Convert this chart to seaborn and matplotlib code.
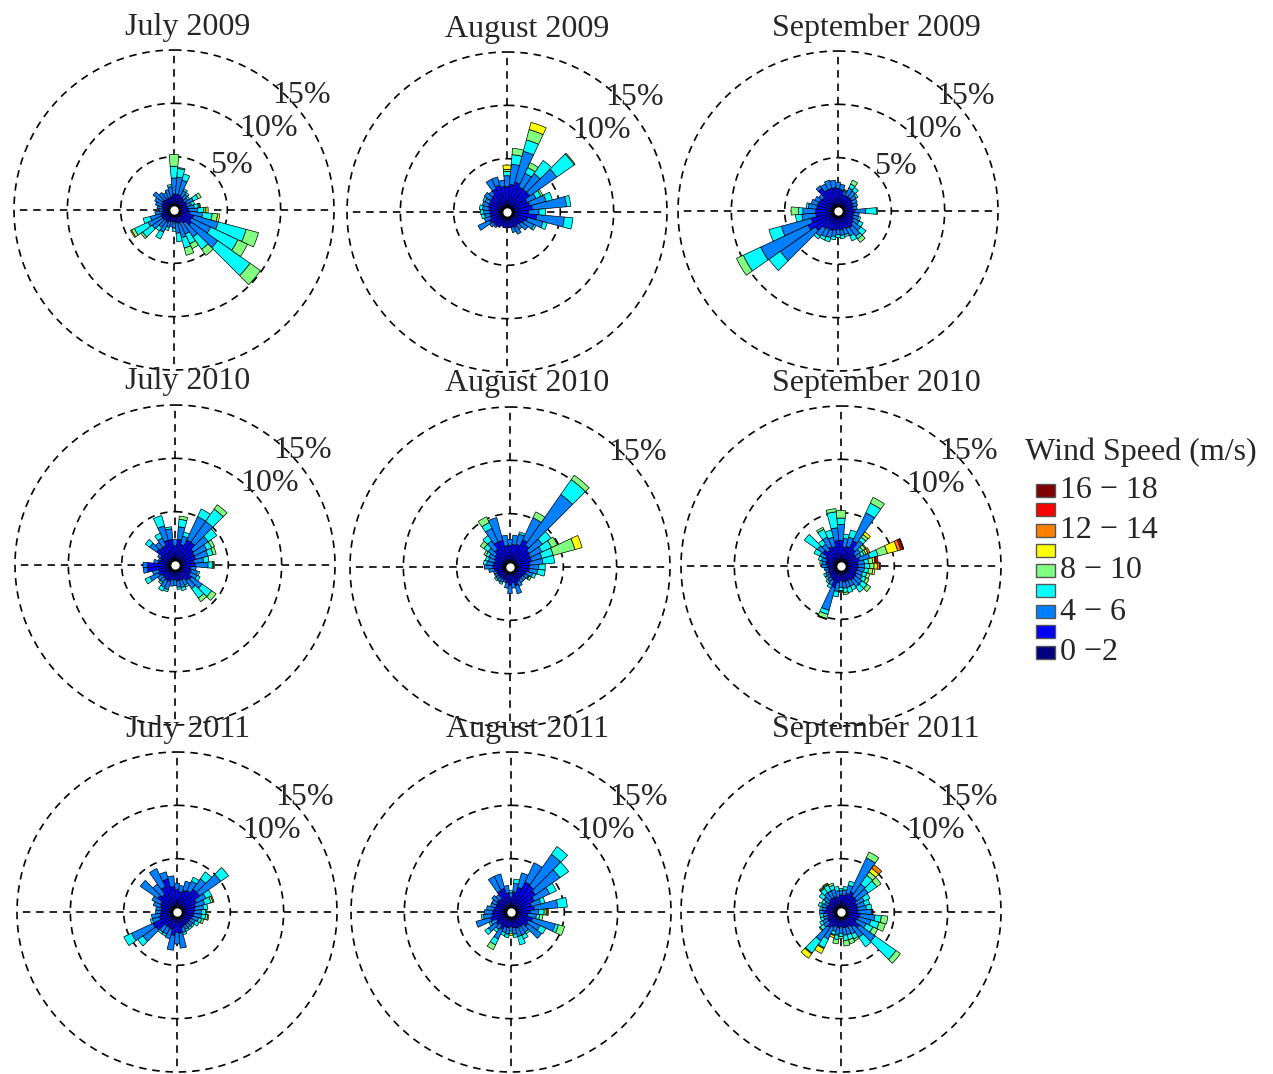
import numpy as np
import matplotlib
matplotlib.use("Agg")
import matplotlib.pyplot as plt
from matplotlib.patches import Rectangle
import seaborn as sns

# wind direction bins (degrees, clockwise from north)
directions = np.arange(0, 360, 10)

# speed classes, slowest first
speed_colors = ["#000080", "#0000ff", "#0080ff", "#00ffff", "#80ff80",
                "#ffff00", "#ff8000", "#ff0000", "#800000"]
legend_labels = ["0 \u22122", "", "4 \u2212 6", "", "8 \u2212 10", "",
                 "12 \u2212 14", "", "16 \u2212 18"]

months = ["July", "August", "September"]
years = [2009, 2010, 2011]

# frequency (%) per direction, stacked by speed class (0-2, 2-4, 4-6, ...)
jul_2009 = [
    [.5, 1.0, 1.5, 1.1, 1.1], [.5, 1.0, 1.6, .8, .1], [.5, 1.0, 1.4, .6], [.5, .9, .6, .2],
    [.5, .8, .5, .2], [.5, .7, .4, .2], [.5, .8, .7, .5, .3], [.5, .7, .5, .3],
    [.5, .8, .6, .4, .1, .1], [.5, .9, .8, .6, .2, .2], [.5, 1.0, 1.2, .9, .5, .2],
    [.6, 1.3, 2.4, 2.7, 1.2], [.6, 1.2, 2.0, 2.8, 1.0], [.6, 1.4, 3.0, 3.7, 1.2],
    [.5, 1.0, 1.6, 1.4, .7], [.4, .9, 1.2, 1.0, .5], [.4, .9, 1.4, 1.0, .7], [.4, .8, 1.0, .8],
    [.4, .7, .6, .3], [.4, .7, .5], [.4, .7, .6, .3], [.4, .9, 1.0, .7], [.4, .8, .8, .4],
    [.4, .9, 1.2, 1.1, .2], [.4, .9, 1.4, 1.4, .3, .1], [.4, .9, 1.0, .7], [.4, .7, .7],
    [.4, .6, .4], [.4, .7, .5], [.4, .8, .6], [.4, .8, .8], [.4, .9, 1.1], [.4, .8, .8],
    [.4, .8, .6], [.4, .8, .8], [.4, .9, .9, .2],
]
aug_2009 = [
    [.6, 1.8, 1.0, .4, .2, .4], [.6, 2.0, 1.9, .9, .6], [.6, 2.3, 3.0, 1.1, 1.0, .7],
    [.6, 2.0, 1.4, .6, .5], [.6, 2.0, 1.8, 1.5], [.6, 2.0, 3.1, 2.0, .1], [.6, 1.5, .9, .5, .2],
    [.6, 1.6, 1.6, .6], [.6, 1.8, 3.2, .4], [.6, 1.4, 1.0, .6], [.6, 2.2, 2.6, .8],
    [.6, 1.4, 1.5, .4], [.6, 1.2, 1.0, .2], [.6, 1.0, .8], [.6, .9, .5], [.6, 1.0, .7],
    [.6, .9, .5], [.6, .9], [.6, .8], [.6, .9], [.6, .8], [.6, 1.0], [.6, 1.0, .2],
    [.6, 1.0, .4], [.6, 1.2, 1.2], [.6, 1.0, .6], [.6, 1.0, .5, .3], [.6, 1.0, .6, .3],
    [.6, 1.1, .6, .3], [.6, 1.2, .6], [.6, 1.2, .5, .2], [.6, 1.3, .7], [.6, 1.4, .4],
    [.6, 1.8, 1.0], [.6, 2.0, .8], [.6, 1.8, .6],
]
sep_2009 = [
    [.6, 1.5, .6], [.6, 1.4, .5], [.6, 1.0, .3, .1, .1], [.6, 1.0, .8, .4, .4], [.6, 1.0, .7, .4],
    [.6, 1.0, .5, .2], [.6, .9, .5], [.6, .9, .4], [.6, .8, .4], [.6, 1.0, 1.0, 1.0, .1],
    [.6, .9, .5], [.6, .9, .5, .2], [.6, 1.0, .6, .4], [.6, 1.1, .9, .6], [.6, 1.3, 1.0, .3, .4],
    [.6, 1.2, .8, .5], [.6, 1.1, .6, .2], [.6, 1.2, .5, .3], [.6, 1.1, .5, .3], [.6, 1.2, .6, .3],
    [.6, 1.3, .7, .4], [.6, 1.3, .8, .3], [.6, 1.4, .9, .3], [.6, 2.0, 4.0, 1.3],
    [.6, 2.5, 4.9, 1.8, .7], [.6, 2.0, 2.9, 1.2], [.6, 1.5, 1.3, .6], [.6, 1.5, 1.2, .4, .7],
    [.6, 1.4, .8, .2], [.6, 1.4, .6], [.6, 1.3, .5], [.6, 1.2, .4], [.6, 2.0, .3],
    [.6, 1.6, .6], [.6, 1.6, .8], [.6, 1.6, .7],
]
jul_2010 = [
    [.6, 1.2, .6], [.6, 1.8, 1.2, .7, .3], [.6, 1.4, .8, .4], [.6, 2.0, 2.4, .8],
    [.6, 2.0, 2.4, 1.4, .5], [.6, 1.5, 1.7, 1.0], [.6, 1.4, 1.3, .5, .3], [.6, 1.4, 1.2, .5, .3],
    [.6, 1.2, .9, .5], [.6, 1.3, 1.2, .4, .1, .1], [.6, .9, .5], [.6, 1.0, .6, .2],
    [.6, 1.0, .7, .3], [.6, 1.3, 1.2, 1.1, .5], [.6, 1.2, .9, 1.1, .4], [.6, .9, .6, .2],
    [.6, .9, .7, .3], [.6, .9, .6, .2], [.6, .8, .5], [.6, .8, .6], [.6, 1.0, .8, .2],
    [.6, 1.0, .7, .4], [.6, .9, .5, .2], [.6, .9, .5], [.6, 1.1, .9, .5], [.6, 1.0, .6],
    [.6, 2.0, .4], [.6, 2.0, .4], [.6, 1.0, .4], [.6, .8, .2], [.6, .9, .3], [.6, 1.5, .8, .5],
    [.6, 1.4, .6], [.6, 1.4, .8, .5], [.6, 1.8, 1.4, 1.0], [.6, 1.8, 1.0, .2],
]
aug_2010 = [
    [.6, 1.4, .6], [.6, 1.5, .9], [.6, 1.6, 1.0, .2], [.6, 2.2, 2.3, 0, .6],
    [.6, 1.9, 5.8, 1.7, .5], [.6, 1.6, 1.5, 1.0], [.6, 1.5, 1.2, 1.0, .6],
    [.6, 1.5, 1.0, 1.1, 2.1, .7], [.6, 1.3, 1.2, 1.1], [.6, 1.2, .9, .6], [.6, 1.2, .8, .7],
    [.6, 1.0, .6, .3], [.6, .9, .4, .1, .2], [.6, .8, .4], [.6, .8, .4], [.6, .9, .5],
    [.6, 1.2, .8], [.6, .9, .5], [.6, 1.1, .8], [.6, .9, .5], [.6, .7, .2], [.6, .7, .3, .2],
    [.6, .7, .4], [.6, .7, .3, .2], [.6, .7, .3], [.6, .7, .3], [.6, .9, .5], [.6, 1.0, .8],
    [.6, 1.0, .6, .3], [.6, .9, .6, .3], [.6, 1.0, .6, .3, .2], [.6, 1.1, .8, .5, .4],
    [.6, 1.4, 1.0, .6], [.6, 2.0, 1.4, .6, .6], [.6, 2.0, 2.2], [.6, 1.4, 1.0],
]
sep_2010 = [
    [.6, 1.8, 1.5, .6, .7], [.6, 1.2, .8, .4], [.6, 1.3, .9, .7], [.6, 2.0, 2.9, 1.0, .6],
    [.6, 1.3, 1.0, .4, .3, .3], [.6, 1.0, .6, .3, .3, .1], [.6, 1.0, .5, .3, .2, .2, .2],
    [.6, 1.2, 1.0, .8, .9, 1.0, .3, .2, .1], [.6, 1.0, .6, .4, .4, .2, .1, .2],
    [.6, 1.0, .6, .5, .4, .3, .2, .1], [.6, 1.0, .6, .4, .4, .2], [.6, .9, .6, .4, .3],
    [.6, 1.0, .6, .4, .3], [.6, 1.0, .8, .6, .4], [.6, 1.0, .8, .6], [.6, .9, .6, .4],
    [.6, .9, .6, .5], [.6, .9, .6, .4, .2], [.6, .8, .6, .3, .1, .1], [.6, 1.0, .8, .5],
    [.6, 1.5, 2.2, .4, .4, 0, 0, 0, .1], [.6, .9, .5, .3], [.6, .8, .4, .2], [.6, .7, .3, .2],
    [.6, .7, .3, .2], [.6, .6, .3], [.6, .6, .4], [.6, .7, .5], [.6, .8, .4, .2],
    [.6, .8, .5, .3], [.6, 1.0, .6, .6], [.6, 1.5, .6, 1.5], [.6, 1.2, .7, .5],
    [.6, 1.4, 1.0, .8, .2], [.6, 1.3, .9, .7], [.6, 1.8, 1.2, 1.5, .3],
]
jul_2011 = [
    [.6, 1.5, .6], [.6, 1.3, .6], [.6, 1.5, .9], [.6, 1.6, 1.0, .4], [.6, 2.0, 1.2, .8],
    [.6, 2.0, 2.4, .9], [.6, 1.4, 1.0, .6], [.6, 1.2, .9, .6, .2, .1], [.6, 1.1, .8, .4],
    [.6, 1.0, .7, .4, .1], [.6, 1.0, .7, .4, .2, .1], [.6, .9, .6, .3, .2], [.6, .8, .5, .4],
    [.6, .8, .4, .2], [.6, .8, .4, .2], [.6, .8, .4, .2], [.6, .9, .5, .2], [.6, 1.4, 1.4],
    [.6, 1.3, 1.1], [.6, 1.6, 1.4], [.6, 1.1, .9], [.6, 1.0, .7, .2], [.6, 1.0, .7, .2],
    [.6, 1.8, 1.5, .6], [.6, 1.9, 2.2, .8], [.6, 1.1, .7, .2], [.6, 1.0, .8], [.6, .9, .5],
    [.6, .9, .5], [.6, 1.0, .7], [.6, 1.1, .9], [.6, 1.6, 2.0], [.6, 1.4, 1.2],
    [.6, 2.0, 1.9], [.6, 2.6, .7], [.6, 1.8, 1.0],
]
aug_2011 = [
    [.6, .8, .4, .2], [.6, 1.3, .8, .4], [.6, 1.8, 1.4], [.6, 2.5, 2.0], [.6, 2.4, 3.6, .9],
    [.6, 2.2, 2.8, 1.0], [.6, 1.8, 1.6, .7], [.6, 1.4, .9, .4], [.6, 1.6, 2.2, .9],
    [.6, 1.2, .8, .5, .2, .1, .1], [.6, 1.0, .8, .3, .3], [.6, 1.5, 2.2, .3, .6],
    [.6, 1.2, 1.2, .6], [.6, 1.3, 1.6], [.6, 1.0, .7, .2], [.6, 1.0, .8, .4], [.6, 1.0, .8, .8],
    [.6, .9, .6, .3], [.6, .8, .4, .2, 0, .2], [.6, .9, .6, .3], [.6, .9, .5, .3],
    [.6, 1.2, 1.0, .6, .5], [.6, .9, .5, .3], [.6, 1.1, .9, .4], [.6, .9, .6, .2],
    [.6, 1.4, 1.4], [.6, 1.2, .8, .2], [.6, 1.1, .8], [.6, 1.0, .7], [.6, .9, .5], [.6, .9, .5],
    [.6, 1.0, .6], [.6, .9, .5], [.6, 1.6, 1.5], [.6, 1.7, 1.4], [.6, 1.2, .7],
]
sep_2011 = [
    [.6, 1.0, .4, .2], [.6, 1.0, .5, .3], [.6, 1.2, .8, .4], [.6, 1.5, 3.5, 0, .6],
    [.6, 1.2, 1.4, 1.0, .4, .4, .4], [.6, 1.2, 1.3, 1.0, .5], [.6, 1.0, .8, .6], [.6, 1.0, .7, .5],
    [.6, 1.0, .8, .5], [.6, 1.0, 1.3, 0, 0, 0, 0, 0, .1], [.6, 1.2, 1.4, .6, .6],
    [.6, 1.1, 1.2, .8, .6], [.6, 1.0, 1.0, .7, .5], [.6, 1.5, 1.8, 2.4, .5], [.6, 1.1, 1.2, 1.1],
    [.6, .9, .8, .5, .2], [.6, .9, .7, .5, .4], [.6, .9, .7, .5, .5], [.6, .8, .6, .3, .2],
    [.6, .9, .7, .4, .4], [.6, .8, .5, .3, .1, .2], [.6, 1.0, 1.2, .9, .1, .5],
    [.6, 1.2, 1.5, 1.4, .1, .5], [.6, .8, .6, .4, .1], [.6, .8, .5, .3], [.6, .7, .4, .3],
    [.6, .7, .4, .3], [.6, 1.0, .4], [.6, .8, .4, .2], [.6, .8, .5, .3], [.6, .7, .4, .3],
    [.6, .8, .6, .5], [.6, .9, .7, .5, .1, .1], [.6, .9, .7, .6, .1, .1], [.6, .9, .7, .4, .2],
    [.6, .8, .6, .4],
]

panels = [[jul_2009, aug_2009, sep_2009],
          [jul_2010, aug_2010, sep_2010],
          [jul_2011, aug_2011, sep_2011]]

# rose centres in pixels (rows x columns), radius of the 15% ring in pixels
centres_x = [[174, 507, 838], [175, 510, 841], [177, 511, 841]]
centres_y = [[210, 212, 211], [565, 567, 566], [912, 912, 912]]
title_x = [188, 527, 876]
ring_px = 160
W, H = 1273, 1074

sns.set_theme(style="white")
plt.rcParams['font.family'] = ['Liberation Serif', 'DejaVu Serif']

fig = plt.figure(figsize=(W / 100, H / 100), dpi=100)


def draw_rose(ax, rows, show_5=False, show_10=True):
    ax.set_theta_zero_location('N')
    ax.set_theta_direction(-1)
    ax.set_facecolor('none')

    theta = np.deg2rad(directions)
    seg = np.zeros((len(directions), len(speed_colors)))
    for i, r in enumerate(rows):
        seg[i, :len(r)] = r

    # dashed rings and compass lines
    t = np.linspace(0, 2 * np.pi, 361)
    for r in (5, 10, 15):
        ax.plot(t, np.full_like(t, r), color='black', lw=1.2, ls=(0, (4.5, 3.5)),
                zorder=1, clip_on=False)
    for a in (0, 90, 180, 270):
        ax.plot([np.deg2rad(a)] * 2, [0, 15], color='black', lw=1.2, ls=(0, (4.5, 3.5)),
                zorder=1, clip_on=False)

    bottom = np.zeros(len(directions))
    for k, col in enumerate(speed_colors):
        h = seg[:, k]
        m = h > 0
        if m.any():
            ax.bar(theta[m], h[m], width=np.deg2rad(10), bottom=bottom[m], color=col,
                   edgecolor='black', linewidth=0.5, align='center', zorder=2)
        bottom += h

    ax.plot([0], [0], 'o', ms=8, mfc='white', mec='black', mew=2, zorder=5, clip_on=False)

    ax.text(np.deg2rad(48), 16.1, "15%", fontsize=23, ha='center', va='center')
    if show_10:
        ax.text(np.deg2rad(49), 11.7, "10%", fontsize=23, ha='center', va='center')
    if show_5:
        ax.text(np.deg2rad(52), 6.8, "5%", fontsize=23, ha='center', va='center')

    ax.set_ylim(0, 15)
    ax.grid(False)
    ax.set_xticks([])
    ax.set_yticks([])
    ax.spines['polar'].set_visible(False)


for i in range(3):
    for j in range(3):
        cx, cy = centres_x[i][j], centres_y[i][j]
        ax = fig.add_axes([(cx - ring_px) / W, 1 - (cy + ring_px) / H,
                           2 * ring_px / W, 2 * ring_px / H], projection='polar')
        draw_rose(ax, panels[i][j],
                  show_5=(i == 0 and j != 1),
                  show_10=not (i == 1 and j == 1))

# titles and legend in pixel space
over = fig.add_axes([0, 0, 1, 1])
over.set_xlim(0, W)
over.set_ylim(H, 0)
over.axis('off')

for i in range(3):
    for j in range(3):
        over.text(title_x[j], centres_y[i][j] - 183, f"{months[j]} {years[i]}",
                  fontsize=23, ha='center', va='center')

over.text(1025, 452, "Wind Speed (m/s)", fontsize=23, ha='left', va='center')
patch_y = [652, 631, 611, 590, 570, 550, 530, 509, 490]
for k, col in enumerate(speed_colors):
    over.add_patch(Rectangle((1036, patch_y[k] - 6.5), 19, 13, facecolor=col,
                             edgecolor='#555555', linewidth=1))
    if legend_labels[k]:
        over.text(1060, patch_y[k] + 1, legend_labels[k], fontsize=23, ha='left', va='center')

fig.savefig("out.png", dpi=100)
